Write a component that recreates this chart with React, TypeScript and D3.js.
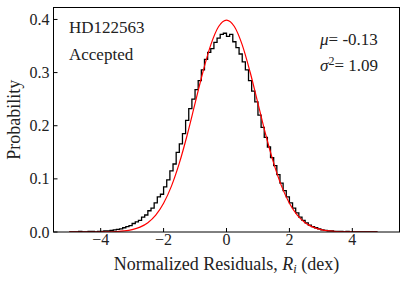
import React from 'react';
import * as d3 from 'd3';

// histogram of normalized residuals, bins of 0.1 starting at -5.0
const binStart = -5.0;
const binWidth = 0.1;
const histValues = [
  0, 0, 0, 0.001, 0,
  0, 0.001, 0.001, 0, 0.001,
  0.001, 0.002, 0.002, 0.003, 0.004,
  0.005, 0.006, 0.008, 0.010, 0.012,
  0.016, 0.019, 0.022, 0.028, 0.032,
  0.040, 0.045, 0.055, 0.066, 0.071,
  0.085, 0.098, 0.115, 0.128, 0.150,
  0.166, 0.185, 0.210, 0.232, 0.250,
  0.268, 0.285, 0.305, 0.325, 0.338,
  0.345, 0.357, 0.365, 0.372, 0.374,
  0.368, 0.372, 0.358, 0.347, 0.335,
  0.320, 0.305, 0.285, 0.265, 0.245,
  0.220, 0.197, 0.178, 0.160, 0.140,
  0.125, 0.108, 0.092, 0.078, 0.066,
  0.055, 0.045, 0.036, 0.028, 0.022,
  0.017, 0.013, 0.010, 0.008, 0.006,
  0.004, 0.003, 0.002, 0.002, 0.001,
  0.001, 0.001, 0, 0.001, 0,
  0, 0, 0, 0, 0,
  0, 0, 0,
];

// reference normal curve
const curveX = [
  -5, -4.75, -4.5, -4.25, -4, -3.75, -3.5, -3.25, -3, -2.75, -2.5, -2.25, -2, -1.75, -1.5, -1.25, -1, -0.75, -0.5, -0.25,
  0, 0.25, 0.5, 0.75, 1, 1.25, 1.5, 1.75, 2, 2.25, 2.5, 2.75, 3, 3.25, 3.5, 3.75, 4, 4.25, 4.5, 4.8,
];
const curveY = [
  0, 0, 0, 0, 0.0001, 0.0004, 0.0009, 0.002, 0.0044, 0.0091, 0.0175, 0.0317, 0.054, 0.0863, 0.1295, 0.1826, 0.242, 0.3011, 0.3521, 0.3867,
  0.3989, 0.3867, 0.3521, 0.3011, 0.242, 0.1826, 0.1295, 0.0863, 0.054, 0.0317, 0.0175, 0.0091, 0.0044, 0.002, 0.0009, 0.0004, 0.0001, 0, 0, 0,
];

const xTicks = [-4, -2, 0, 2, 4];
const yTicks = [0, 0.1, 0.2, 0.3, 0.4];

const W = 407;
const H = 282;
const m = { left: 53.5, right: 7.5, top: 7.5, bottom: 50 };
const txt = { fontFamily: 'Liberation Serif, DejaVu Serif, serif' };

export default function App() {
  const x = d3.scaleLinear().domain([-5.5, 5.5]).range([m.left, W - m.right]);
  const y = d3.scaleLinear().domain([0, 0.4225]).range([H - m.bottom, m.top]);

  const steps: [number, number][] = histValues.map((v, i) => [binStart + i * binWidth, v]);
  steps.push([binStart + histValues.length * binWidth, histValues[histValues.length - 1]]);
  const stepLine = d3.line<[number, number]>()
    .x(d => x(d[0]))
    .y(d => y(d[1]))
    .curve(d3.curveStepAfter);

  const gauss = d3.line<number>()
    .x(d => x(d))
    .y((d, i) => y(curveY[i]))
    .curve(d3.curveMonotoneX);

  const x0 = m.left;
  const x1 = W - m.right;
  const y0 = H - m.bottom;
  const y1 = m.top;

  return (
    <svg width={W} height={H} style={{ position: 'fixed', left: 0, top: 0, background: '#fff' }}>
      <defs>
        <clipPath id="plot">
          <rect x={x0} y={y1} width={x1 - x0} height={y0 - y1} />
        </clipPath>
      </defs>
      <g clipPath="url(#plot)">
        <path d={stepLine(steps) || ''} fill="none" stroke="#000" strokeWidth={1.3} />
        <path d={gauss(curveX) || ''} fill="none" stroke="#ff0000" strokeWidth={1.2} />
      </g>
      <rect x={x0} y={y1} width={x1 - x0} height={y0 - y1} fill="none" stroke="#000" strokeWidth={1} />

      {xTicks.map(t => (
        <g key={t}>
          <line x1={x(t)} x2={x(t)} y1={y0} y2={y0 - 4} stroke="#000" />
          <text x={x(t)} y={y0 + 13} textAnchor="middle" fontSize={16} fill="#222" style={txt}>
            {t < 0 ? '\u2212' + Math.abs(t) : t}
          </text>
        </g>
      ))}
      {yTicks.map(t => (
        <g key={t}>
          <line x1={x0} x2={x0 + 4} y1={y(t)} y2={y(t)} stroke="#000" />
          <text x={x0 - 4} y={y(t)} dy="0.35em" textAnchor="end" fontSize={16} fill="#222" style={txt}>
            {t.toFixed(1)}
          </text>
        </g>
      ))}

      <text x={(x0 + x1) / 2} y={270} textAnchor="middle" fontSize={18} fill="#222" style={txt}>
        Normalized Residuals, <tspan fontStyle="italic">R</tspan>
        <tspan fontStyle="italic" fontSize={12} dy={3}>i</tspan>
        <tspan dy={-3}> (dex)</tspan>
      </text>
      <text transform={`translate(20,${(y0 + y1) / 2}) rotate(-90)`} textAnchor="middle" fontSize={18} fill="#222" style={txt}>
        Probability
      </text>

      <text x={69} y={33} fontSize={17} fill="#222" style={txt}>HD122563</text>
      <text x={69} y={60} fontSize={17} fill="#222" style={txt}>Accepted</text>
      <text x={320} y={45} fontSize={17} fill="#222" style={txt}>
        <tspan fontStyle="italic">{'\u03bc'}</tspan>= -0.13
      </text>
      <text x={320} y={71} fontSize={17} fill="#222" style={txt}>
        <tspan fontStyle="italic">{'\u03c3'}</tspan>
        <tspan fontSize={12} dy={-6}>2</tspan>
        <tspan dy={6}>= 1.09</tspan>
      </text>
    </svg>
  );
}
